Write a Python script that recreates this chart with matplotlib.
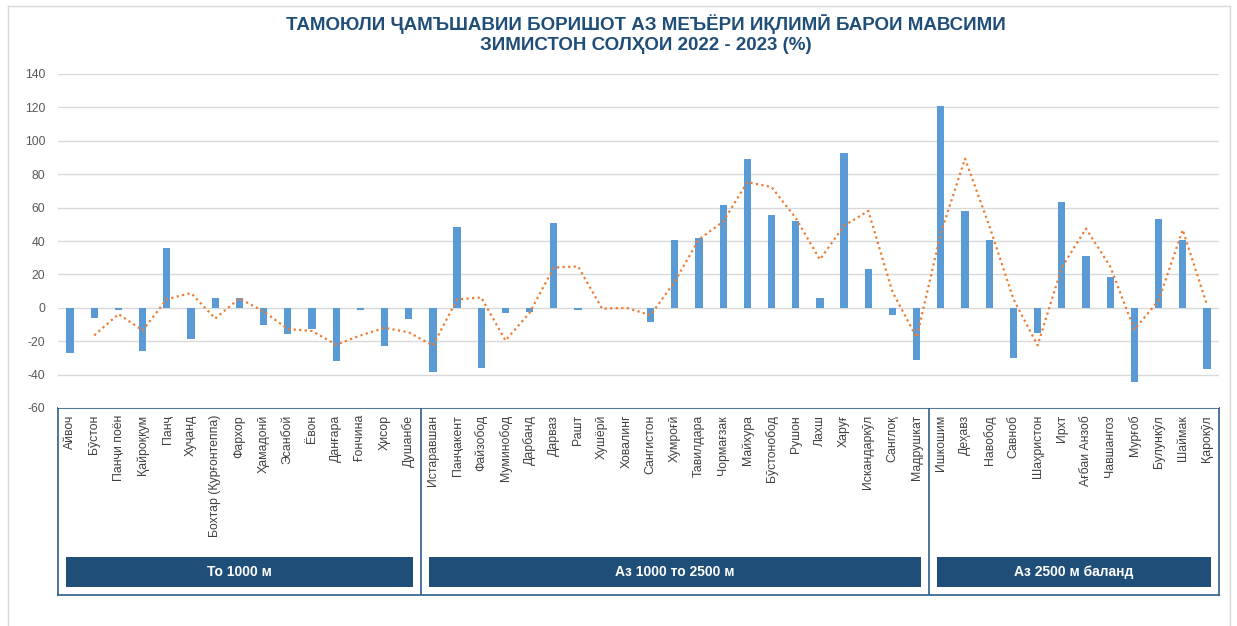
import pandas as pd
import matplotlib.pyplot as plt
from matplotlib.patches import Rectangle
from matplotlib.lines import Line2D

plt.rcParams['font.family'] = ['Liberation Sans', 'DejaVu Sans']
plt.rcParams['axes.unicode_minus'] = False

# ─── DATA ─────────────────────────────────────────────────────────────────────
stations_low = ['Айвоч', 'Бӯстон', 'Панҷи поён', 'Қайроққум', 'Панҷ', 'Хуҷанд',
                'Бохтар (Қурғонтеппа)', 'Фархор', 'Ҳамадонӣ', 'Эсанбой', 'Ёвон',
                'Данғара', 'Ғончина', 'Ҳисор', 'Душанбе']
values_low = [-27, -6, -1.5, -25.6, 36, -18.4, 5.6, 5.6, -10, -15.4, -12.4,
              -31.8, -1.4, -22.6, -6.8]

stations_mid = ['Истаравшан', 'Панҷакент', 'Файзобод', 'Муминобод', 'Дарбанд',
                'Дарваз', 'Рашт', 'Хушёрӣ', 'Ховалинг', 'Сангистон', 'Хумроғӣ',
                'Тавилдара', 'Чормағзак', 'Майхура', 'Бӯстонобод', 'Рушон', 'Лахш',
                'Харуғ', 'Искандаркӯл', 'Санглоқ', 'Мадрушкат']
values_mid = [-38.4, 48.4, -36, -3.2, -2.6, 50.8, -1.2, 0, 0, -8.8, 40.4,
              41.6, 61.6, 89, 55.6, 52, 5.8, 92.6, 23.4, -4.4, -31.2]

stations_high = ['Ишкошим', 'Деҳавз', 'Навобод', 'Савноб', 'Шаҳристон', 'Ирхт',
                 'Ағбаи Анзоб', 'Чавшангоз', 'Мурғоб', 'Булункӯл', 'Шаймак', 'Қарокӯл']
values_high = [120.6, 58, 40.4, -29.8, -15.2, 63.6, 31.2, 18.4, -44.4, 53, 40.4, -36.6]

group_names = ['То 1000 м', 'Аз 1000 то 2500 м', 'Аз 2500 м баланд']

stations = stations_low + stations_mid + stations_high
values = pd.Series(values_low + values_mid + values_high)
# Excel trendline: 2-period moving average
trend = values.rolling(2).mean()
group_sizes = [len(stations_low), len(stations_mid), len(stations_high)]

# ─── FIGURE ───────────────────────────────────────────────────────────────────
W, H = 1237, 626
fig = plt.figure(figsize=(W / 100, H / 100), dpi=100)

def px(x0, y0, x1, y1):
    return [x0 / W, 1 - y1 / H, (x1 - x0) / W, (y1 - y0) / H]

dark_blue = '#1F4E79'

# category box (drawn first so tick labels sit on top)
cax = fig.add_axes(px(58, 408, 1219, 595))
cax.set_facecolor('none')
cax.set_xlim(-0.5, len(stations) - 0.5)
cax.set_ylim(0, 187)
cax.set_xticks([])
cax.set_yticks([])
for s in cax.spines.values():
    s.set_color('#2E5F8E')
    s.set_linewidth(1.2)

start = 0
for name, n in zip(group_names, group_sizes):
    left = start - 0.5
    right = start + n - 0.5
    if start > 0:
        cax.axvline(left, color='#2E5F8E', lw=1.2)
    inset = 0.34
    cax.add_patch(Rectangle((left + inset, 8), right - left - 2 * inset, 30,
                            facecolor=dark_blue, edgecolor='none'))
    cax.text((left + right) / 2, 23, name, ha='center', va='center',
             color='white', fontsize=10, fontweight='bold')
    start += n

# main plot
ax = fig.add_axes(px(58, 74, 1219, 408))
x = range(len(stations))
ax.bar(x, values, width=0.3, color='#5B9BD5', zorder=3)
ax.plot(x, trend, color='#ED7D31', linestyle=(0, (1, 1.5)), lw=1.6, zorder=4)

ax.set_xlim(-0.5, len(stations) - 0.5)
ax.set_ylim(-60, 140)
ax.set_yticks(range(-60, 141, 20))
ax.set_xticks(list(x))
ax.set_xticklabels(stations, rotation=90, va='top', ha='center',
                   fontsize=8.8, color='#404040')
ax.tick_params(axis='x', length=0, pad=5)
ax.tick_params(axis='y', length=0, pad=9, labelsize=8.8, labelcolor='#595959')
ax.grid(axis='y', color='#D9D9D9', lw=1, zorder=0)
for s in ax.spines.values():
    s.set_visible(False)

# title
title_kw = dict(ha='center', va='center', fontsize=13.5, fontweight='bold', color=dark_blue)
fig.text(646 / W, 1 - 24 / H, 'ТАМОЮЛИ ҶАМЪШАВИИ БОРИШОТ АЗ МЕЪЁРИ ИҚЛИМӢ БАРОИ МАВСИМИ', **title_kw)
fig.text(646 / W, 1 - 46 / H, 'ЗИМИСТОН СОЛҲОИ 2022 - 2023 (%)', **title_kw)

# light chart frame
for xs, ys in [([8, 8], [6, 626]), ([1230, 1230], [6, 626]), ([8, 1230], [6, 6])]:
    fig.add_artist(Line2D([v / W for v in xs], [1 - v / H for v in ys],
                          color='#D9D9D9', lw=1))

plt.savefig('out.png', dpi=100)
plt.close()
